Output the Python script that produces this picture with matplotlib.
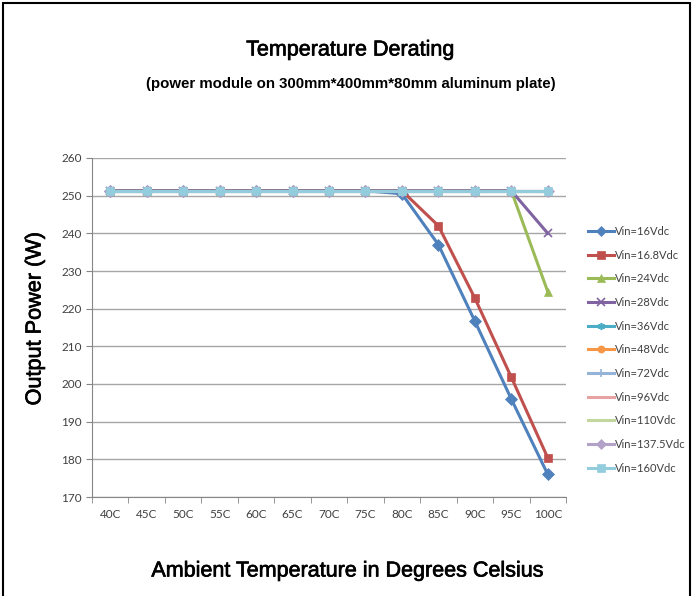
import matplotlib
matplotlib.use("Agg")
import matplotlib.pyplot as plt
import matplotlib.patheffects as pe
from matplotlib.patches import Rectangle

temps = ["40C", "45C", "50C", "55C", "60C", "65C", "70C", "75C", "80C", "85C", "90C", "95C", "100C"]

flat = [251.3] * 13
vin_16 = [251.3, 251.3, 251.3, 251.3, 251.3, 251.3, 251.3, 251.3, 250.5, 237, 216.7, 196, 176]
vin_16_8 = [251.3, 251.3, 251.3, 251.3, 251.3, 251.3, 251.3, 251.3, 251.3, 242, 222.8, 201.8, 180.4]
vin_24 = [251.3] * 12 + [224.5]
vin_28 = [251.3] * 12 + [240]

series = [
    ("Vin=16Vdc", vin_16, "#4F81BD", "D"),
    ("Vin=16.8Vdc", vin_16_8, "#C0504D", "s"),
    ("Vin=24Vdc", vin_24, "#9BBB59", "^"),
    ("Vin=28Vdc", vin_28, "#8064A2", "x"),
    ("Vin=36Vdc", flat, "#4BACC6", (6, 2, 0)),
    ("Vin=48Vdc", flat, "#F79646", "o"),
    ("Vin=72Vdc", flat, "#95B3D7", "+"),
    ("Vin=96Vdc", flat, "#E6A3A1", "_"),
    ("Vin=110Vdc", flat, "#C3D69B", "_"),
    ("Vin=137.5Vdc", flat, "#B3A2C7", "D"),
    ("Vin=160Vdc", flat, "#93CDDD", "s"),
]

small_font = "Lato"
big_font = "Liberation Sans"
heavy = [pe.withStroke(linewidth=0.5, foreground="black")]

fig = plt.figure(figsize=(6.94, 5.96), dpi=100)
ax = fig.add_axes([92 / 694, 1 - 497 / 596, 474 / 694, 339 / 596])

x = list(range(len(temps)))
for name, vals, color, mk in series:
    ax.plot(x, vals, color=color, lw=2.2, marker=mk, markersize=6,
            markeredgewidth=1.2 if mk in ("x", "+", (6, 2, 0)) else 0.5,
            markeredgecolor=color, label=name)

ax.set_xlim(-0.5, 12.5)
ax.set_ylim(170, 260)
ax.set_yticks(range(170, 261, 10))
ax.set_xticks(x)
ax.set_xticklabels(temps, family=small_font)
ax.set_yticklabels([str(v) for v in range(170, 261, 10)], family=small_font)
ax.set_xticks([i + 0.5 for i in range(-1, 13)], minor=True)
ax.tick_params(axis="x", which="major", length=0, pad=9, labelsize=8.5, colors="#404040")
ax.tick_params(axis="x", which="minor", length=4, color="#868686")
ax.tick_params(axis="y", length=4, color="#868686", labelsize=8.5, labelcolor="#404040")
ax.grid(axis="y", color="#A6A6A6", lw=1)
ax.set_axisbelow(True)
for s in ("top", "right"):
    ax.spines[s].set_visible(False)
for s in ("left", "bottom"):
    ax.spines[s].set_color("#868686")

fig.text(350 / 694, 1 - 50 / 596, "Temperature Derating", ha="center", va="center",
         fontsize=15.5, family=big_font, path_effects=heavy)
fig.text(351 / 694, 1 - 84 / 596, "(power module on 300mm*400mm*80mm aluminum plate)",
         ha="center", va="center", fontsize=10.8, fontweight="bold", family=big_font)
fig.text(35 / 694, 1 - 319 / 596, "Output Power (W)", rotation=90, ha="center", va="center",
         fontsize=15.6, family=big_font, path_effects=heavy)
fig.text(347 / 694, 1 - 571 / 596, "Ambient Temperature in Degrees Celsius", ha="center",
         va="center", fontsize=15.5, family=big_font, path_effects=heavy)

fig.legend(loc="upper left", bbox_to_anchor=(578 / 694, 1 - 216 / 596), frameon=False,
           prop={"family": small_font, "size": 8}, labelspacing=1.14, handlelength=2.3,
           handletextpad=0.1, labelcolor="#404040", markerscale=0.85)

fig.patches.append(Rectangle((3 / 694, -0.1), 687 / 694, 1.1 - 3 / 596, transform=fig.transFigure,
                             fill=False, edgecolor="black", lw=1.5, clip_on=False))

fig.savefig("out.png", dpi=100)
